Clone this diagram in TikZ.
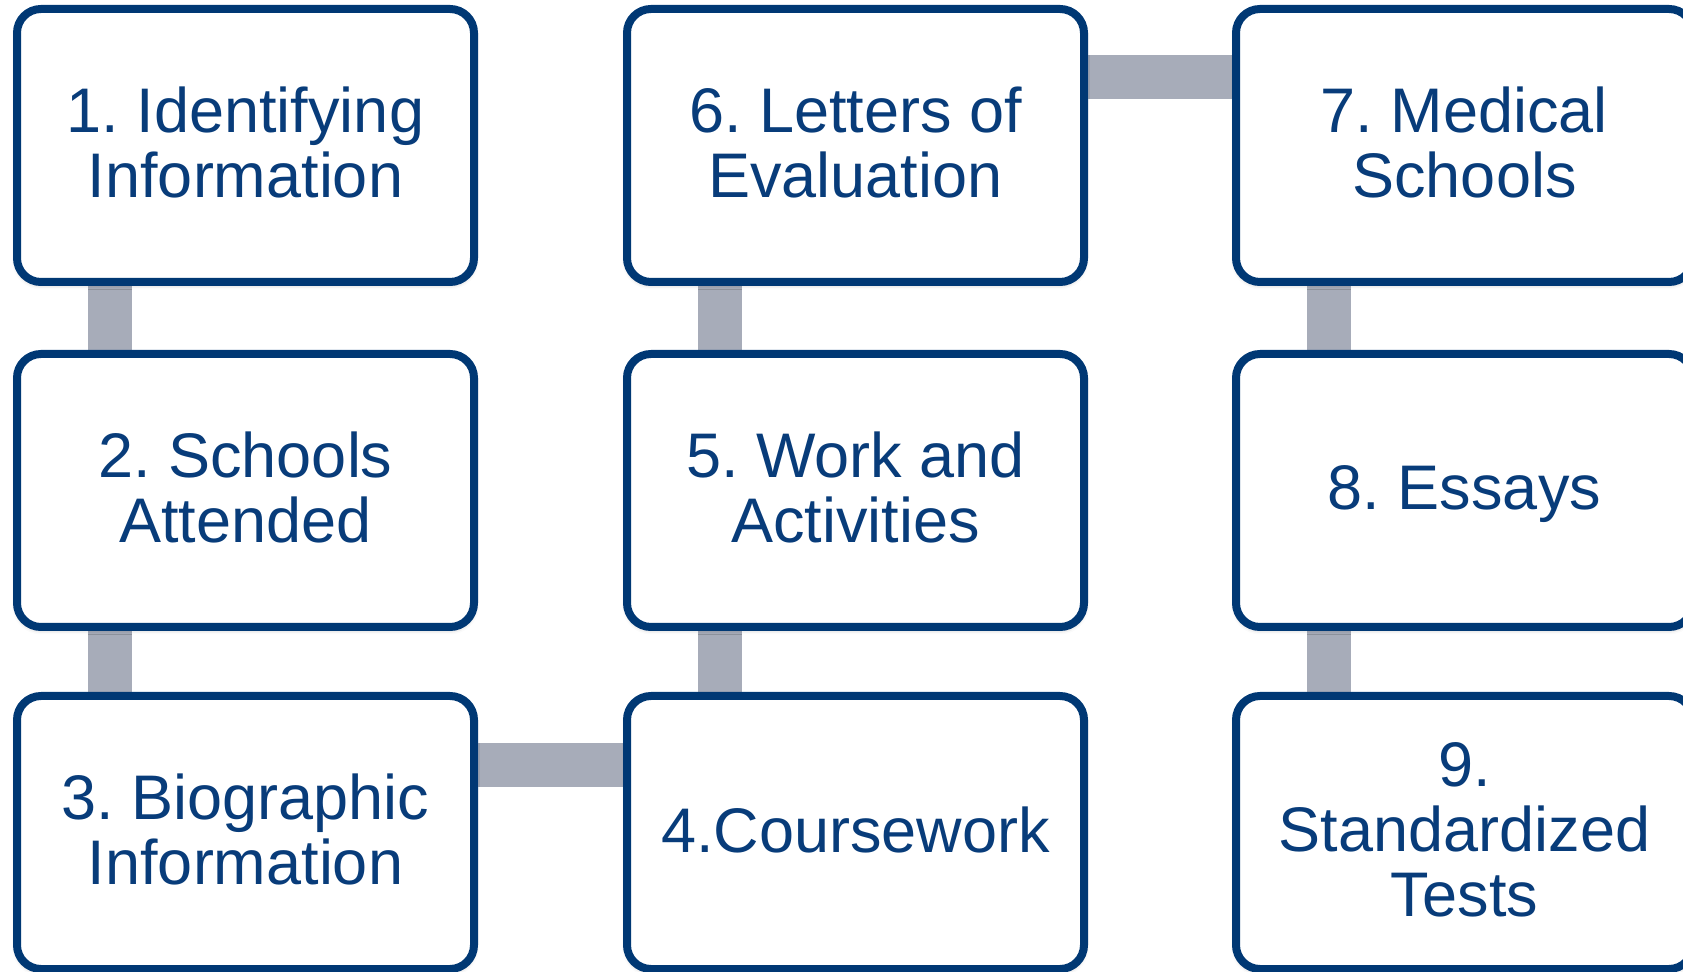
\documentclass[tikz,border=0pt]{standalone}
\usepackage{fontspec}
\setmainfont{Liberation Sans}
\usetikzlibrary{backgrounds,shadows.blur}
\definecolor{boxborder}{RGB}{0,56,116}
\definecolor{boxtext}{RGB}{8,60,122}
\definecolor{connfill}{RGB}{167,172,185}
\tikzset{
  stepbox/.style={draw=boxborder, line width=4pt, fill=white, rounded corners=12pt,
    minimum width=228.5pt, minimum height=136.5pt, inner sep=0pt, outer sep=0pt,
    align=center, text=boxtext, font=\fontsize{31.5pt}{32.5pt}\selectfont\frenchspacing,
    execute at end node={\rule[-2.9pt]{0pt}{2.9pt}},
    blur shadow={shadow xshift=0pt, shadow yshift=-1.2pt, shadow blur radius=2.5pt, shadow opacity=28}},
  conn/.style={draw=connfill, line width=22pt, line cap=butt}
}
\begin{document}
\begin{tikzpicture}[x={(0.5pt,0)}, y={(0,-0.5pt)}]
\useasboundingbox (0,0) rectangle (1683,972);
\node[stepbox] (n1) at (245.5,145.5) {1. Identifying\\Information};
\node[stepbox] (n2) at (245.5,490.5) {2. Schools\\Attended};
\node[stepbox] (n3) at (245.5,832.5) {3. Biographic\\Information};
\node[stepbox] (n4) at (855.5,832.5) {4.Coursework};
\node[stepbox] (n5) at (855.5,490.5) {5. Work and\\Activities};
\node[stepbox] (n6) at (855.5,145.5) {6. Letters of\\Evaluation};
\node[stepbox] (n7) at (1464.5,145.5) {7. Medical\\Schools};
\node[stepbox] (n8) at (1464.5,490.5) {\raisebox{0pt}[\height][0pt]{8. Essays}};
\node[stepbox] (n9) at (1464.5,832.5) {9.\\Standardized\\Tests};
\begin{pgfonlayer}{background}
\draw[conn] ([xshift=46.5pt]n1.south west) -- ([xshift=46.5pt]n2.north west);
\draw[conn] ([xshift=46.5pt]n2.south west) -- ([xshift=46.5pt]n3.north west);
\draw[conn] ([yshift=-34.5pt]n3.north east) -- ([yshift=-34.5pt]n4.north west);
\draw[conn] ([xshift=46.5pt]n4.north west) -- ([xshift=46.5pt]n5.south west);
\draw[conn] ([xshift=46.5pt]n5.north west) -- ([xshift=46.5pt]n6.south west);
\draw[conn] ([yshift=-34pt]n6.north east) -- ([yshift=-34pt]n7.north west);
\draw[conn] ([xshift=46.5pt]n7.south west) -- ([xshift=46.5pt]n8.north west);
\draw[conn] ([xshift=46.5pt]n8.south west) -- ([xshift=46.5pt]n9.north west);
\end{pgfonlayer}
\end{tikzpicture}
\end{document}
